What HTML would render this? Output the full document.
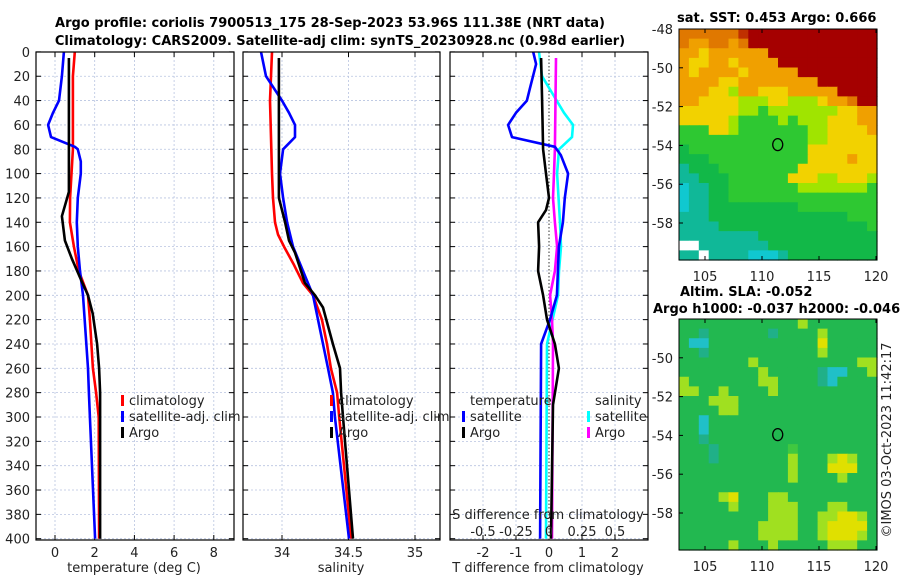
<!DOCTYPE html>
<html><head><meta charset="utf-8">
<style>
body{margin:0;background:#fff;}
svg{display:block;font-family:"DejaVu Sans","Liberation Sans",sans-serif;}
text{fill:#222;font-size:13px;}
.b{font-weight:bold;fill:#000;}
</style></head>
<body>
<svg id="c" width="900" height="580" viewBox="0 0 900 580" xmlns="http://www.w3.org/2000/svg"></svg>
<script>
// ---- data ----
const depthTicks=[0,20,40,60,80,100,120,140,160,180,200,220,240,260,280,300,320,340,360,380,400];
const tTicks=[0,2,4,6,8];
const sTicks=[34,34.5,35];
const dTTicks=[-2,-1,0,1,2];
const dSTicks=[-0.5,-0.25,0,0.25,0.5];
const tClimD=[0,20,80,120,140,160,180,200,220,260,280,300,400];
const tClim=[1.0,0.9,0.9,0.76,0.75,0.95,1.2,1.66,1.76,1.91,2.07,2.2,2.22];
const tArgoD=[5,100,115,135,155,170,185,200,215,240,260,280,400];
const tArgo=[0.7,0.7,0.7,0.35,0.5,0.85,1.25,1.66,1.9,2.12,2.22,2.27,2.27];
const tSatD=[0,20,40,50,60,70,78,80,90,100,120,140,160,180,200,260,280,300,400];
const tSat=[0.45,0.35,0.2,-0.1,-0.35,-0.2,1.0,1.15,1.3,1.3,1.15,1.1,1.15,1.26,1.41,1.66,1.71,1.76,2.02];
const sClimD=[0,40,100,120,140,150,160,175,190,200,220,240,260,280,300,400];
const sClim=[33.925,33.91,33.925,33.932,33.947,33.97,34.015,34.09,34.158,34.233,34.30,34.338,34.368,34.414,34.43,34.52];
const sArgoD=[5,120,140,155,165,190,200,210,240,260,280,300,400];
const sArgo=[33.977,33.977,34.023,34.053,34.098,34.173,34.248,34.308,34.383,34.436,34.444,34.459,34.534];
const sSatD=[0,20,40,50,60,70,80,100,120,140,160,180,200,240,260,280,300,400];
const sSat=[33.842,33.88,34.0,34.053,34.098,34.098,34.008,33.985,34.008,34.038,34.083,34.158,34.233,34.308,34.346,34.383,34.398,34.504];
const dArgoTD=[5,40,80,100,120,130,140,160,180,200,220,240,260,290,400];
const dArgoT=[-0.24,-0.21,-0.18,-0.09,0,-0.09,-0.33,-0.3,-0.33,-0.18,-0.06,0.18,0.3,0.12,0.06];
const dSatTD=[0,10,30,40,50,60,70,78,85,100,120,140,160,180,200,220,240,400];
const dSatT=[-0.48,-0.39,-0.58,-0.67,-1.0,-1.24,-1.12,0.18,0.36,0.58,0.48,0.42,0.3,0.27,0.24,0.03,-0.24,-0.27];
const dSatSD=[0,20,35,50,60,70,80,100,140,160,180,200,240,400];
const dSatS=[-0.076,-0.053,0.03,0.114,0.182,0.174,0.076,0.061,0.083,0.091,0.076,0.068,-0.015,-0.023];
const dArgoSD=[5,80,100,120,140,160,180,200,220,240,400];
const dArgoS=[0.053,0.045,0.038,0.03,0.045,0.061,0.045,0.008,0.023,0.03,0.023];
const latTicks=[-48,-50,-52,-54,-56,-58];
const lonTicks=[105,110,115,120];
const sstRows=[
"oooooorRRRRRRRRRRRRR","oOOooOoRRRRRRRRRRRRR","OOyOOOOOORRRRRRRRRRR","OyyOOyOOOORRRRRRRRRR",
"OyOOOOyOOOOORRRRRRRR","OOOOyyOOOOOOOORRRRRR","OOOyylOOyyyOOOOORRRR","OOyyyylllyylllyOOoRR",
"yyyyyyllglllllllyyOO","yyyyylgggglglllyyyOO","gggyylgggggggllyyyyO","gggggggggggggllyyyyy",
"Gggggggggggggyyyyyyy","GGGggggggggggyyyyOyy","tGGGggggggggyyyyyyyy","ttGGGggggggyyyllyyyl",
"cttGGggggggglllllllg","cttGGggggggggggggggg","cttGGGGGGGGGgggggggg","tttGGGGGGGGGGGGGGggg",
"ttttGGGGGGGGGGGGGGGg","ttttttttGGGGGGGGGGGG","wwtttttttGGGGGGGGGGG","ttwttttccctGGGGGGGGG"];
const slaRows=[
"GGGGGGGGGGGGlGGGGGGG","GGtGGGGGGtGGGGlGGGGG","GccGGGGGGGGGGGyGGGGG","GGtGGGGGGGGGGGlGGGGG",
"GGGGGGGlGGGGGGGGGGll","GGGGGGGGlGGGGGtccGGl","lGGGGGGGllGGGGtcGGGG","llGGlGGGGlGGGGGGGGGG",
"GGGlllGGGGGGGGGGGGGG","GGGGllGGGGGGGGGGGGGG","GGcGGGGGGGGGGGGGGGGG","GGcGGGGGGGGGGGGGGGGG",
"GGtGGGGGGGGGGGGGGGGG","GGGtGGGGGGGgGGGGGGGG","GGGtGGGGGGGlGGGlylGG","GGGGGGGGGGGlGGGyyyGG",
"GGGGGGGGGGGlGGGGlGGG","GGGGGGGGGGGGGGGGGGGG","GGGGlyGGGllGGGGGGGGG","GGGGGlGGGlllGGGllGGG",
"GGGGGGGGGlllGGllyylG","GGGGGGGGllllGGlyyyyG","GGGGGGGGllllGGlyyylG","GGGGGlGGGlGGGGGlllGG"];

// ---- helpers ----
const svg=document.getElementById('c');
const NS='http://www.w3.org/2000/svg';
function mk(tag,attrs,parent){const e=document.createElementNS(NS,tag);for(const k in attrs)e.setAttribute(k,attrs[k]);(parent||svg).appendChild(e);return e;}
function txt(x,y,s,anchor,cls,parent){const e=mk('text',{x:x,y:y,'text-anchor':anchor||'middle'},parent);if(cls)e.setAttribute('class',cls);e.textContent=s;return e;}
const Y=d=>51.9+d*1.217;
const Y0=52,Y1=540;
const xT=v=>55+v*19.85;
const xS=v=>282+(v-34)*133;
const xD=v=>549+v*33;
const xDS=v=>549+v*132;

function panel(x0,x1,name){
  const g=mk('g',{});
  
  
  depthTicks.forEach(d=>{
    const l=mk('line',{x1:x0,x2:x1,y1:Y(d),y2:Y(d),stroke:'#b8c4e0','stroke-width':0.8,'stroke-dasharray':'2,2'},g);
    
    
    mk('line',{x1:x0,x2:x0+5,y1:Y(d),y2:Y(d),stroke:'#000'},g);
    mk('line',{x1:x1-5,x2:x1,y1:Y(d),y2:Y(d),stroke:'#000'},g);
  });
  return g;
}
function vgrid(g,ticks,fx,labels,color){
  ticks.forEach((t,i)=>{
    const x=fx(t);
    const l=mk('line',{x1:x,x2:x,y1:Y0,y2:Y1,stroke:color||'#b8c4e0','stroke-width':0.8,'stroke-dasharray':'2,2'},g);
    
    
    mk('line',{x1:x,x2:x,y1:Y1-5,y2:Y1,stroke:'#000'},g);
    mk('line',{x1:x,x2:x,y1:Y0,y2:Y0+5,stroke:'#000'},g);
    if(labels){const e=txt(x,557,String(t),'middle','',g);}
  });
}
function frame(g,x0,x1){const r=mk('rect',{x:x0,y:Y0,width:x1-x0,height:Y1-Y0,fill:'none',stroke:'#000','stroke-width':1.2},g);}
function line(g,D,V,fx,color,name){
  const pts=D.map((d,i)=>fx(V[i]).toFixed(1)+','+Y(d).toFixed(1)).join(' ');
  const p=mk('polyline',{points:pts,fill:'none',stroke:color,'stroke-width':2.6,'stroke-linejoin':'round'},g);
  
  
}
function legend(g,x,y,items){
  items.forEach((it,i)=>{
    const yy=y+i*16;
    const r=mk('rect',{x:x,y:yy-10,width:3,height:11,fill:it[1]},g);
    
    
    const t=txt(x+8,yy,it[0],'start','',g);
    
    
  });
}

// titles
let t1=txt(330,27,'Argo profile: coriolis 7900513_175 28-Sep-2023 53.96S 111.38E (NRT data)','middle','b');


let t2=txt(340,45,'Climatology: CARS2009. Satellite-adj clim: synTS_20230928.nc (0.98d earlier)','middle','b');



// depth labels
depthTicks.forEach(d=>{const e=txt(30,Y(d)+5,String(d),'end');});

// panel 1 temperature
const g1=panel(36,234,'temperature-panel');
vgrid(g1,tTicks,xT,true);
line(g1,tClimD,tClim,xT,'#f00','temp-climatology-line');
line(g1,tSatD,tSat,xT,'#00f','temp-satellite-line');
line(g1,tArgoD,tArgo,xT,'#000','temp-argo-line');
frame(g1,36,234);
legend(g1,121,405,[['climatology','#f00'],['satellite-adj. clim','#00f'],['Argo','#000']]);
let xl1=txt(134,572,'temperature (deg C)');

// panel 2 salinity
const g2=panel(243,440,'salinity-panel');
vgrid(g2,sTicks,xS,true);
line(g2,sClimD,sClim,xS,'#f00','sal-climatology-line');
line(g2,sSatD,sSat,xS,'#00f','sal-satellite-line');
line(g2,sArgoD,sArgo,xS,'#000','sal-argo-line');
frame(g2,243,440);
legend(g2,330,405,[['climatology','#f00'],['satellite-adj. clim','#00f'],['Argo','#000']]);
let xl2=txt(341,572,'salinity');

// panel 3 differences
const g3=panel(450,648,'difference-panel');
vgrid(g3,dTTicks.filter(v=>v!==0),xD,false);
dTTicks.forEach(t=>{const e=txt(xD(t),557,String(t),'middle','',g3);});
const zl=mk('line',{x1:xD(0),x2:xD(0),y1:Y0,y2:Y1,stroke:'#333','stroke-width':1,'stroke-dasharray':'1.5,2'},g3);


line(g3,dSatSD,dSatS,xDS,'#0ff','sdiff-satellite-line');
line(g3,dArgoSD,dArgoS,xDS,'#f0f','sdiff-argo-line');
line(g3,dSatTD,dSatT,xD,'#00f','tdiff-satellite-line');
line(g3,dArgoTD,dArgoT,xD,'#000','tdiff-argo-line');
frame(g3,450,648);
let lt=txt(470,405,'temperature','start','',g3);
let ls=txt(595,405,'salinity','start','',g3);
legend(g3,462,421,[['satellite','#00f'],['Argo','#000']]);
legend(g3,587,421,[['satellite','#0ff'],['Argo','#f0f']]);
let sd=txt(548,519,'S difference from climatology','middle','',g3);
dSTicks.forEach(t=>{const e=txt(xDS(t),536,String(t),'middle','',g3);});
let xl3=txt(548,572,'T difference from climatology');

// maps
const mx0=679,mx1=877;
const lonX=v=>762+(v-110)*11.4;
const latYtop=v=>29+(-48-v)*19.4;
const colsSST={R:'#a50000',r:'#c03000',o:'#e07800',O:'#f0a000',y:'#f2d200',l:'#a0e400',g:'#2ec832',G:'#12b848',t:'#10b898',c:'#10c8d0',w:'#ffffff'};
const colsSLA={G:'#22b850',g:'#40c840',t:'#20b088',c:'#20c0c8',l:'#a0e020',y:'#e0e000'};
function map(y0,rows,cols,name,latY){
  const g=mk('g',{});
  
  
  const nr=rows.length,nc=rows[0].length;
  const cw=(mx1-mx0)/nc,ch=231/nr;
  rows.forEach((row,r)=>{[...row].forEach((k,c)=>{
    const cell=mk('rect',{x:(mx0+c*cw).toFixed(2),y:(y0+r*ch).toFixed(2),width:(cw+0.6).toFixed(2),height:(ch+0.6).toFixed(2),fill:cols[k]},g);
    
    
  });});
  mk('rect',{x:mx0,y:y0,width:mx1-mx0,height:231,fill:'none',stroke:'#000','stroke-width':1},g);
  latTicks.forEach(v=>{const yy=latY(v);
    mk('line',{x1:mx0,x2:mx0+4,y1:yy,y2:yy,stroke:'#000'},g);
    if(!(y0>300&&v===-48)){const e=txt(673,yy+5,String(v),'end','',g);}
  });
  lonTicks.forEach(v=>{const xx=lonX(v);
    mk('line',{x1:xx,x2:xx,y1:y0+231-4,y2:y0+231,stroke:'#000'},g);
    mk('line',{x1:xx,x2:xx,y1:y0,y2:y0+4,stroke:'#000'},g);
    const e=txt(xx,y0+252,String(v),'middle','',g);});
  const m=mk('ellipse',{cx:lonX(111.38),cy:latY(-53.96),rx:5,ry:6,fill:'none',stroke:'#000','stroke-width':1.3},g);
  
  
}
map(29,sstRows,colsSST,'sst-map',latYtop);
map(319,slaRows,colsSLA,'sla-map',v=>319+(-48-v)*19.4);
let mt1=txt(677,22,'sat. SST: 0.453 Argo: 0.666','start','b');
let mt2=txt(680,296,'Altim. SLA: -0.052','start','b');
let mt3=txt(653,313,'Argo h1000: -0.037 h2000: -0.046','start','b');
let cp=txt(0,0,'©IMOS 03-Oct-2023 11:42:17','middle');cp.setAttribute('transform','translate(891,440) rotate(-90)');
</script>
</body></html>
